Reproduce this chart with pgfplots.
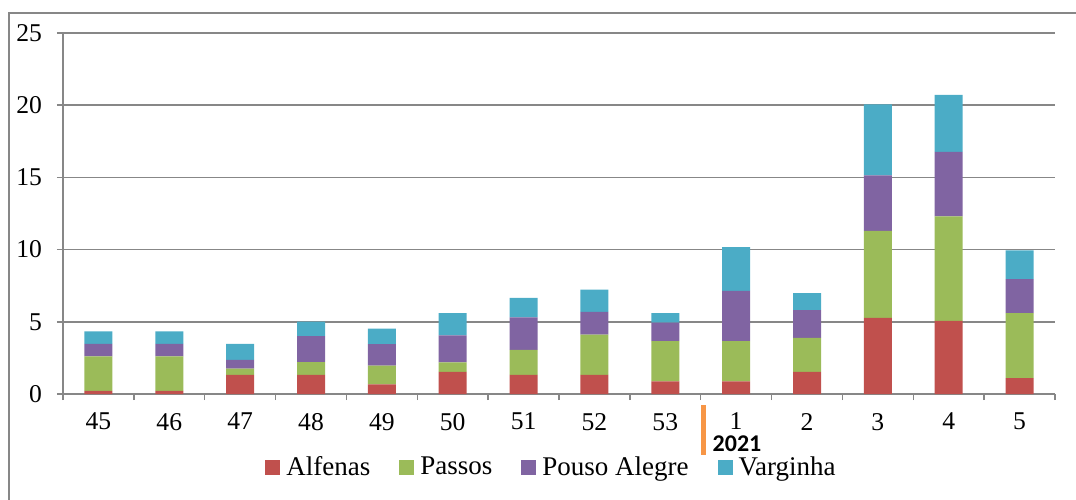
\documentclass[border=0pt]{standalone}
\usepackage{pgfplots}
\pgfplotsset{compat=1.18}
\usepackage{fontspec}
\setmainfont{Liberation Serif}
\newfontfamily\carlito{Carlito}
\definecolor{alf}{HTML}{C0504D}
\definecolor{pas}{HTML}{9BBB59}
\definecolor{pou}{HTML}{8064A2}
\definecolor{var}{HTML}{4BACC6}
\definecolor{gridc}{HTML}{878787}
\definecolor{orbar}{HTML}{F79646}
\begin{document}
\begin{tikzpicture}
\useasboundingbox (0,0) rectangle (538pt,249.5pt);
\draw[gridc, line width=1pt] (4.3pt,-2pt) -- (4.3pt,243pt) -- (540pt,243pt);
\begin{axis}[
  at={(31.5pt,52.5pt)}, anchor=south west,
  scale only axis, width=496pt, height=180.5pt,
  ybar stacked, bar width=14pt,
  xmin=-0.5, xmax=13.5, ymin=0, ymax=25,
  xtick={0,...,13},
  xticklabels={45,46,47,48,49,50,51,52,53,1,2,3,4,5},
  minor xtick={-0.5,0.5,...,13.5},
  ytick={0,5,...,25},
  ymajorgrids,
  major grid style={gridc, line width=0.75pt},
  axis x line*=bottom, axis y line*=left,
  axis line style={gridc, line width=0.75pt},
  tick align=outside,
  major x tick style={draw=none},
  minor x tick style={gridc, line width=0.75pt},
  major y tick style={gridc, line width=0.75pt},
  major tick length=3pt, minor tick length=3pt,
  /pgf/number format/assume math mode=true,
  ticklabel style={font=\fontsize{12.8}{14}\selectfont},
  yticklabel style={xshift=-4pt},
  xticklabel style={yshift=-3pt},
  legend style={at={(0.4934,-0.2036)}, anchor=center, draw=none, fill=none,
    legend columns=4,
    font=\fontsize{13.5}{15}\selectfont,
    /tikz/every odd column/.append style={column sep=1pt},
    /tikz/every even column/.append style={column sep=12.5pt},
    legend cell align=left},
  legend image code/.code={\fill[#1] (0pt,-3.75pt) rectangle (7.5pt,3.75pt);},
]
\addplot[fill=alf, draw=none] coordinates {(0,0.22)(1,0.22)(2,1.32)(3,1.32)(4,0.66)(5,1.54)(6,1.32)(7,1.32)(8,0.88)(9,0.88)(10,1.54)(11,5.28)(12,5.06)(13,1.10)};
\addplot[fill=pas, draw=none] coordinates {(0,2.38)(1,2.38)(2,0.44)(3,0.88)(4,1.30)(5,0.65)(6,1.73)(7,2.79)(8,2.78)(9,2.78)(10,2.35)(11,6.01)(12,7.24)(13,4.50)};
\addplot[fill=pou, draw=none] coordinates {(0,0.87)(1,0.87)(2,0.60)(3,1.80)(4,1.50)(5,1.87)(6,2.26)(7,1.57)(8,1.29)(9,3.48)(10,1.92)(11,3.85)(12,4.47)(13,2.35)};
\addplot[fill=var, draw=none] coordinates {(0,0.87)(1,0.87)(2,1.11)(3,1.01)(4,1.06)(5,1.54)(6,1.34)(7,1.54)(8,0.65)(9,3.04)(10,1.17)(11,4.91)(12,3.94)(13,2.00)};
\legend{Alfenas,Passos,Pouso Alegre,Varginha}
\end{axis}
\fill[orbar] (350.3pt,22pt) rectangle (352.8pt,47pt);
\node[font=\carlito\bfseries\fontsize{12}{13}\selectfont] at (368.5pt,27.8pt) {2021};
\end{tikzpicture}
\end{document}
